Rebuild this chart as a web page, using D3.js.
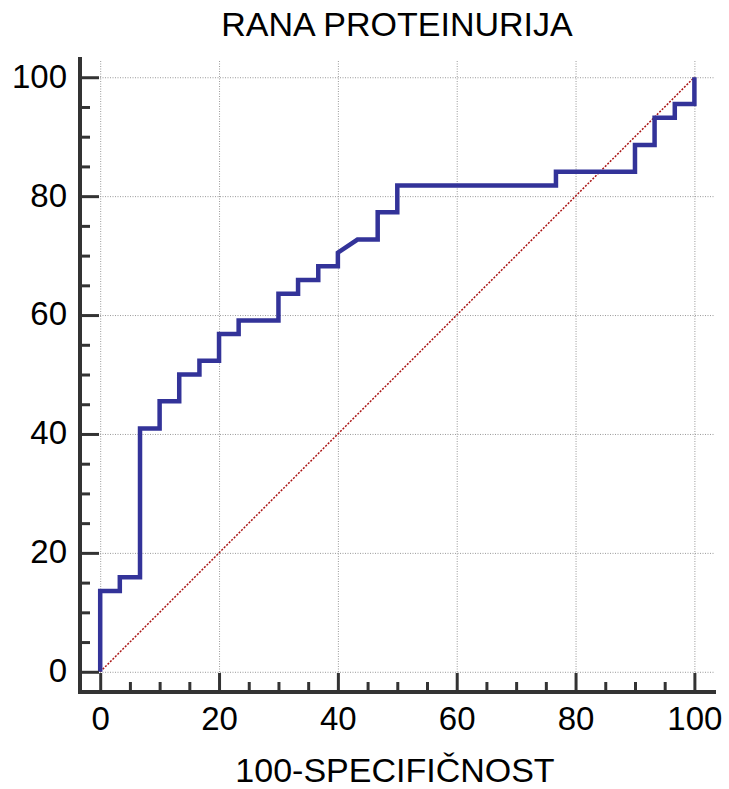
<!DOCTYPE html>
<html>
<head>
<meta charset="utf-8">
<script src="https://cdn.jsdelivr.net/npm/d3@7"></script>
<style>
  body { margin: 0; background: #fff; }
  text { font-family: "Liberation Sans", Arial, sans-serif; fill: #000; }
</style>
</head>
<body>
<script>
// ROC curve vertices (100-specificity, sensitivity)
var fpr = [0, 0, 3.3, 3.3, 6.7, 6.7, 10, 10, 13.3, 13.3, 16.7, 16.7, 20, 20,
           23.3, 23.3, 30, 30, 33.3, 33.3, 36.7, 36.7, 40, 40, 43.3, 46.7, 46.7,
           50, 50, 76.7, 76.7, 90, 90, 93.3, 93.3, 96.7, 96.7, 100, 100];
var tpr = [0, 13.6, 13.6, 15.9, 15.9, 40.9, 40.9, 45.5, 45.5, 50, 50, 52.3, 52.3, 56.8,
           56.8, 59.1, 59.1, 63.6, 63.6, 65.9, 65.9, 68.2, 68.2, 70.5, 72.7, 72.7, 77.3,
           77.3, 81.8, 81.8, 84.1, 84.1, 88.6, 88.6, 93.2, 93.2, 95.5, 95.5, 100];
var diagonal = [0, 100];

var majorTicks = [0, 20, 40, 60, 80, 100];
var minorTicks = [5, 10, 15, 25, 30, 35, 45, 50, 55, 65, 70, 75, 85, 90, 95];

var title = "RANA PROTEINURIJA";
var xTitle = "100-SPECIFIČNOST";

var width = 729, height = 789;

var svg = d3.select("body").append("svg")
    .attr("width", width)
    .attr("height", height);

// axes frame runs a little past 0 and 100 on both sides
var x = d3.scaleLinear().domain([-3.4, 103.3]).range([80, 714]);
var y = d3.scaleLinear().domain([-3.4, 102.9]).range([692, 60]);

// grid
svg.append("g")
    .attr("transform", "translate(0,692)")
    .call(d3.axisBottom(x).tickValues(majorTicks).tickSize(-632).tickFormat(""))
    .call(function(g){
        g.select(".domain").remove();
        g.selectAll("line").attr("stroke", "#999").attr("stroke-dasharray", "1,1.5");
    });
svg.append("g")
    .attr("transform", "translate(80,0)")
    .call(d3.axisLeft(y).tickValues(majorTicks).tickSize(-634).tickFormat(""))
    .call(function(g){
        g.select(".domain").remove();
        g.selectAll("line").attr("stroke", "#999").attr("stroke-dasharray", "1,1.5");
    });

// diagonal reference line
svg.append("line")
    .attr("x1", x(diagonal[0])).attr("y1", y(diagonal[0]))
    .attr("x2", x(diagonal[1])).attr("y2", y(diagonal[1]))
    .attr("stroke", "#aa1515")
    .attr("stroke-width", 1.5)
    .attr("stroke-dasharray", "2,1.5");

// ROC curve
var line = d3.line()
    .x(function(d){ return x(d[0]); })
    .y(function(d){ return y(d[1]); });

svg.append("path")
    .datum(d3.zip(fpr, tpr))
    .attr("d", line)
    .attr("fill", "none")
    .attr("stroke", "#333399")
    .attr("stroke-width", 4.5)
    .attr("stroke-linejoin", "miter");

// minor ticks
svg.append("g")
    .attr("transform", "translate(0,692)")
    .call(d3.axisBottom(x).tickValues(minorTicks).tickSize(-10).tickSizeOuter(0).tickFormat(""))
    .call(function(g){
        g.select(".domain").remove();
        g.selectAll("line").attr("stroke", "#333").attr("stroke-width", 3);
    });
svg.append("g")
    .attr("transform", "translate(80,0)")
    .call(d3.axisLeft(y).tickValues(minorTicks).tickSize(-10).tickSizeOuter(0).tickFormat(""))
    .call(function(g){
        g.select(".domain").remove();
        g.selectAll("line").attr("stroke", "#333").attr("stroke-width", 3);
    });

// major ticks + labels
var xAxis = svg.append("g")
    .attr("transform", "translate(0,692)")
    .call(d3.axisBottom(x).tickValues(majorTicks).tickSize(-19).tickSizeOuter(0).tickPadding(15));
xAxis.select(".domain").attr("stroke", "#333").attr("stroke-width", 4)
    .attr("d", "M78,0H716");
xAxis.selectAll("line").attr("stroke", "#333").attr("stroke-width", 3);
xAxis.selectAll("text")
    .attr("font-size", 33)
    .attr("font-family", "Liberation Sans, Arial, sans-serif")
    .attr("fill", "#000");

var yAxis = svg.append("g")
    .attr("transform", "translate(80,0)")
    .call(d3.axisLeft(y).tickValues(majorTicks).tickSize(-19).tickSizeOuter(0).tickPadding(13));
yAxis.select(".domain").attr("stroke", "#333").attr("stroke-width", 4)
    .attr("d", "M0,57V694");
yAxis.selectAll("line").attr("stroke", "#333").attr("stroke-width", 3);
yAxis.selectAll("text")
    .attr("font-size", 33)
    .attr("dy", "0.3em")
    .attr("font-family", "Liberation Sans, Arial, sans-serif")
    .attr("fill", "#000");

// titles
svg.append("text")
    .attr("x", 397)
    .attr("y", 36)
    .attr("text-anchor", "middle")
    .attr("font-size", 34)
    .text(title);

svg.append("text")
    .attr("x", 395)
    .attr("y", 782)
    .attr("text-anchor", "middle")
    .attr("font-size", 34)
    .text(xTitle);
</script>
</body>
</html>
